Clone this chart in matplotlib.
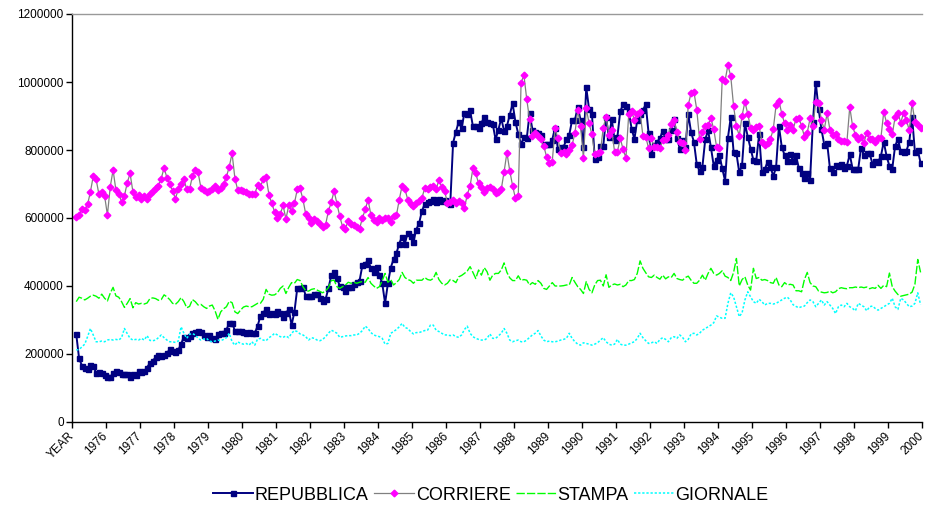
import matplotlib
matplotlib.use("Agg")
import matplotlib.pyplot as plt
import numpy as np

plt.rcParams['font.family'] = ['Liberation Sans', 'DejaVu Sans']

# Monthly circulation figures, in thousands of copies (299 months)
repubblica = [
    258,187,166,160,155,168,165,145,146,145,
    138,133,131,145,150,148,140,142,141,133,
    140,138,150,148,150,160,174,180,190,197,
    194,197,202,214,210,205,212,229,251,246,
    252,261,266,268,266,256,251,256,248,243,
    259,261,263,272,290,292,268,268,269,266,
    261,266,263,261,282,312,321,333,318,321,
    318,327,320,308,321,331,285,324,393,393,
    396,372,372,370,376,376,366,356,361,393,
    431,440,424,400,398,386,398,398,406,411,
    416,461,466,476,452,442,457,431,408,349,
    408,454,479,496,525,545,525,557,547,530,
    566,584,621,641,648,651,655,648,655,651,
    653,648,641,821,854,883,864,909,905,917,
    870,870,864,880,896,883,880,876,831,860,
    893,856,870,903,937,883,847,817,837,834,
    908,860,854,851,844,817,817,817,830,866,
    802,809,809,831,844,888,888,927,888,809,
    984,920,907,773,780,811,811,896,837,891,
    829,839,914,934,930,914,863,832,888,906,
    917,934,849,787,816,824,834,857,832,832,
    858,890,836,804,829,809,906,852,824,758,
    738,751,831,858,808,753,772,785,746,709,
    836,896,795,790,734,756,878,839,804,770,
    768,846,734,743,765,751,723,749,871,809,
    785,767,787,768,785,748,733,719,731,713,
    883,998,922,861,816,822,746,736,756,754,
    760,748,754,787,745,745,745,807,785,790,
    790,760,767,765,782,824,782,753,745,811,
    832,797,795,797,824,897,794,800,762,
]

corriere = [
    604,609,626,624,640,677,723,714,670,677,
    665,609,692,741,682,672,648,665,704,731,
    677,663,668,656,666,655,672,680,689,695,
    716,748,718,701,680,657,684,700,714,684,
    685,723,741,734,689,682,677,680,684,694,
    682,689,700,721,751,790,716,682,682,680,
    677,672,670,670,697,692,714,721,669,643,
    618,600,611,637,597,637,620,643,684,687,
    655,611,601,584,597,592,582,575,580,621,
    646,680,642,605,574,569,592,582,578,575,
    569,600,625,654,608,595,587,601,595,601,
    599,587,605,608,654,695,685,654,640,635,
    645,650,659,688,685,690,695,685,711,692,
    679,645,648,653,645,650,643,628,669,694,
    746,731,702,692,677,687,692,685,674,677,
    684,736,792,739,695,658,664,998,1020,949,
    890,842,849,842,832,812,780,762,766,864,
    834,792,795,788,800,815,849,917,870,776,
    923,878,846,787,790,795,866,898,844,858,
    795,795,834,802,777,906,914,888,907,912,
    841,839,805,834,809,808,805,829,831,845,
    876,888,854,824,822,800,932,968,971,919,
    831,852,871,873,893,861,809,805,1010,1004,
    1050,1017,929,870,842,901,942,906,866,860,
    868,870,824,814,822,832,861,932,945,907,
    878,860,875,860,891,895,871,839,851,893,
    870,942,937,888,860,908,860,844,846,831,
    826,826,824,927,870,844,832,839,821,851,
    831,831,824,834,836,912,880,863,846,896,
    910,880,910,888,858,938,883,873,865,
]

stampa = [
    354,367,364,359,364,370,373,370,364,376,
    364,356,379,396,371,367,354,337,349,363,
    336,351,347,349,347,350,363,365,363,358,
    360,374,368,360,349,346,354,366,354,336,
    340,360,354,344,346,339,334,341,344,327,
    302,324,333,339,355,351,324,319,329,338,
    341,339,339,344,349,349,361,390,376,373,
    374,380,393,400,378,396,410,408,419,416,
    398,386,385,390,392,388,384,380,386,395,
    416,417,398,393,398,403,411,408,411,408,
    411,413,411,425,408,400,393,398,416,437,
    411,419,403,410,419,440,425,419,416,408,
    417,417,417,425,419,417,422,440,419,408,
    403,408,419,416,410,427,431,437,444,457,
    440,422,447,432,454,442,417,432,437,437,
    447,468,440,424,416,416,430,416,419,417,
    403,410,405,416,408,393,390,400,410,400,
    400,400,401,403,403,425,411,398,390,378,
    413,390,380,403,416,417,400,433,396,403,
    406,403,405,398,403,416,416,419,437,474,
    452,439,427,425,432,425,420,432,421,427,
    425,437,422,419,417,425,429,417,408,408,
    417,432,417,437,452,437,432,437,445,429,
    425,416,440,481,400,419,427,403,388,452,
    422,425,417,419,416,410,408,425,403,398,
    410,403,405,403,386,386,383,419,440,410,
    400,398,385,382,380,381,385,380,383,392,
    395,393,392,395,395,397,395,397,395,397,
    392,395,393,402,393,402,398,438,398,385,
    375,370,372,374,376,382,405,478,440,
]

giornale = [
    212,213,221,229,251,275,256,236,236,238,
    236,241,243,241,243,241,248,275,260,246,
    241,243,241,246,241,254,240,239,241,248,
    256,248,241,236,236,234,238,280,261,246,
    258,260,256,246,241,244,246,238,236,238,
    241,239,243,248,261,236,226,236,231,229,
    231,226,236,226,244,246,241,239,248,253,
    261,256,251,249,253,248,261,269,266,259,
    256,251,241,248,246,241,239,243,251,261,
    270,266,261,249,251,253,254,254,256,256,
    261,269,282,275,263,256,253,251,246,229,
    231,261,266,272,280,290,278,275,266,259,
    263,263,266,269,270,285,285,270,266,261,
    256,256,254,256,251,249,256,272,282,261,
    251,246,243,241,241,246,259,246,246,253,
    261,275,261,241,236,239,241,236,236,241,
    249,256,261,269,253,241,236,238,236,236,
    238,241,243,246,261,246,236,229,226,233,
    231,229,226,229,233,241,248,236,229,226,
    229,243,229,226,226,229,233,236,246,261,
    248,239,231,233,236,231,243,248,243,236,
    248,251,246,256,249,236,243,259,261,256,
    261,270,275,280,285,292,312,308,305,305,
    349,380,368,339,310,321,359,383,368,354,
    349,361,354,344,349,349,347,349,354,359,
    364,367,359,345,340,336,339,341,351,359,
    354,339,349,359,344,354,344,334,319,339,
    344,339,349,339,334,327,349,344,339,327,
    339,341,334,329,334,339,344,349,364,339,
    331,364,359,349,339,341,349,380,345,
]

tick_labels = ["YEAR"] + [str(y) for y in range(1976, 2001)]
y_ticks = [0, 200000, 400000, 600000, 800000, 1000000, 1200000]

W, H = 925, 511
fig = plt.figure(figsize=(W / 100, H / 100), dpi=100)
ax = fig.add_axes([72 / W, 1 - 422 / H, 850 / W, 408 / H])

n = len(repubblica)
x = np.arange(n) + 1.5  # category centres (first category "YEAR" is empty)

def scale(v):
    return np.array(v, dtype=float) * 1000

ax.plot(x, scale(repubblica), color='#000080', lw=1.4, marker='s', ms=3.6,
        mfc='#000080', mec='#000080', label='REPUBBLICA')
ax.plot(x, scale(corriere), color='#808080', lw=0.9, marker='D', ms=3.4,
        mfc='#FF00FF', mec='#FF00FF', label='CORRIERE')
ax.plot(x, scale(stampa), color='#00FF00', lw=1.0, linestyle=(0, (6, 1.5)),
        label='STAMPA')
ax.plot(x, scale(giornale), color='#00FFFF', lw=1.1, linestyle=(0, (1.5, 1.2)),
        label='GIORNALE')

ax.set_xlim(0, 300)
ax.set_ylim(0, 1200000)
ax.set_yticks(y_ticks)
ax.set_yticklabels([str(v) for v in y_ticks], fontsize=8.5)
ax.set_xticks(np.arange(0, 301, 12))
ax.set_xticklabels(tick_labels, rotation=45, ha='right', va='center',
                   rotation_mode='anchor', fontsize=8.5)
ax.tick_params(axis='y', direction='out', length=4, width=1, pad=2)
ax.tick_params(axis='x', direction='out', length=4, width=1, pad=5)

for s in ['left', 'bottom']:
    ax.spines[s].set_color('black')
    ax.spines[s].set_linewidth(1.0)
ax.spines['top'].set_color('#999999')
ax.spines['top'].set_linewidth(1.0)
ax.spines['right'].set_visible(False)

leg = fig.legend(loc='center', bbox_to_anchor=(491 / W, 1 - 495 / H), ncol=4,
                 frameon=False, fontsize=13, handlelength=2.2, handletextpad=0.1,
                 columnspacing=0.3, borderaxespad=0, borderpad=0)

fig.savefig('out.png', dpi=100)
